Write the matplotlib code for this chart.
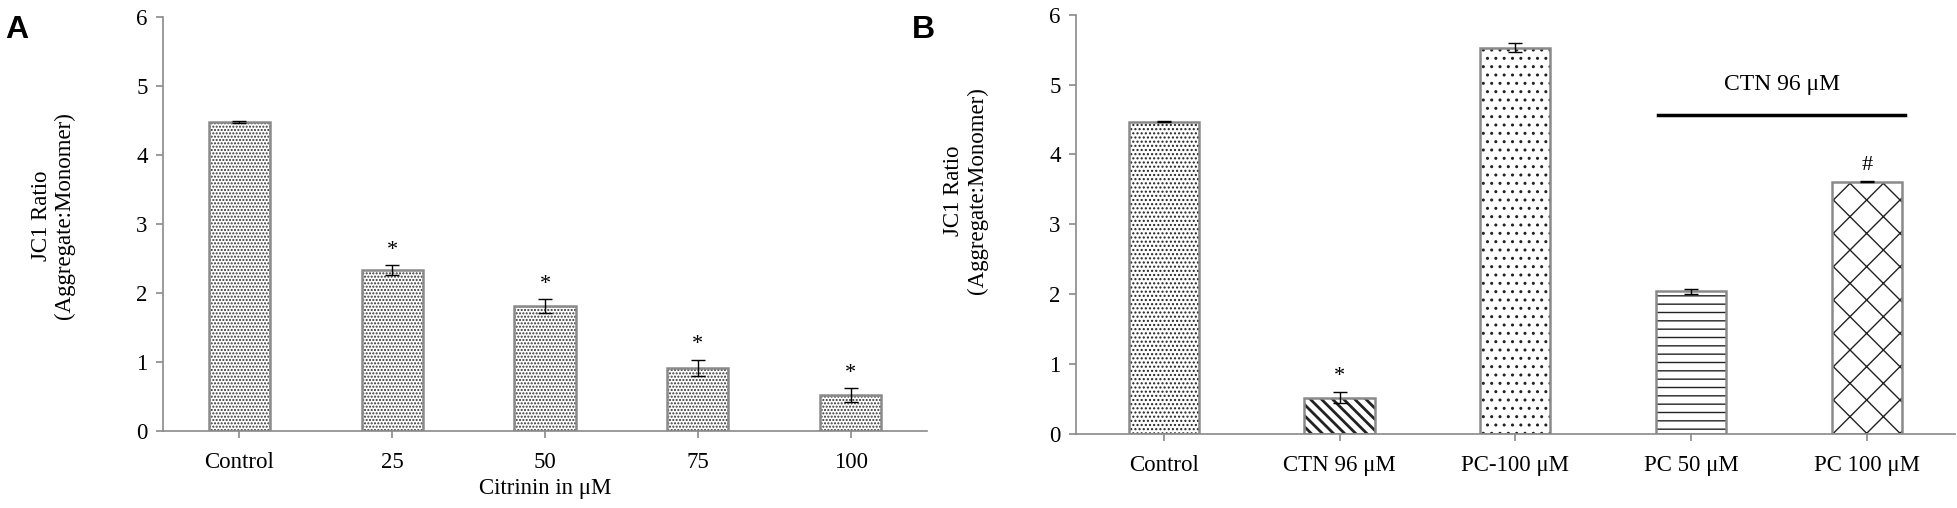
import numpy as np
import matplotlib
matplotlib.use('Agg')
import matplotlib.pyplot as plt

plt.rcParams['font.family'] = ['Liberation Serif', 'DejaVu Serif']
plt.rcParams['font.size'] = 16.5

# panel A data
dose_labels = ['Control', '25', '50', '75', '100']
dose_vals = [4.48, 2.33, 1.81, 0.91, 0.52]
dose_err = [0.01, 0.07, 0.10, 0.12, 0.10]
dose_marks = ['', '*', '*', '*', '*']

# panel B data
treat_labels = ['Control', 'CTN 96 \u03bcM', 'PC-100 \u03bcM', 'PC 50 \u03bcM', 'PC 100 \u03bcM']
treat_vals = [4.47, 0.52, 5.53, 2.04, 3.61]
treat_err = [0.01, 0.08, 0.06, 0.04, 0.01]
treat_marks = ['', '*', '', '', '#']
treat_hatch = ['....', '\\\\\\', '..', '--', 'x']

bracket_from = 2.81
bracket_to = 4.22
bracket_y = 4.56
bracket_text = 'CTN 96 \u03bcM'

edge_grey = '#8a8a8a'

fig = plt.figure(figsize=(19.57, 5.08), dpi=100)
axA = fig.add_axes([0.0833, 0.1516, 0.3904, 0.815])
axB = fig.add_axes([0.5498, 0.1457, 0.449, 0.8254])


def style_axis(ax, labels):
    x = np.arange(len(labels))
    ax.set_xlim(-0.5, len(labels) - 0.5)
    ax.set_ylim(0, 6)
    ax.set_yticks(range(7))
    ax.set_xticks(x)
    ax.set_xticklabels(labels)
    for s in ['top', 'right']:
        ax.spines[s].set_visible(False)
    for s in ['left', 'bottom']:
        ax.spines[s].set_color(edge_grey)
        ax.spines[s].set_linewidth(1.2)
    ax.tick_params(axis='both', colors=edge_grey, labelcolor='black', length=5, width=1.2)
    ax.tick_params(axis='x', pad=10)
    ax.tick_params(axis='y', pad=6)
    return x


def draw_bars(ax, x, vals, errs, hatches, hatch_col):
    for xi, v, h in zip(x, vals, hatches):
        b = ax.bar(xi, v, width=0.4, color='white', edgecolor=hatch_col, hatch=h, linewidth=0)
        for p in b:
            if hasattr(p, 'set_hatch_linewidth'):
                p.set_hatch_linewidth(2.0 if h.startswith('\\') else 1.0)
    ax.bar(x, vals, width=0.4, fill=False, edgecolor=edge_grey, linewidth=1.8)
    ax.errorbar(x, vals, yerr=errs, fmt='none', ecolor='black', elinewidth=1, capsize=5, capthick=1)


# panel A
xA = style_axis(axA, dose_labels)
draw_bars(axA, xA, dose_vals, dose_err, ['.....'] * 5, '#333333')
for xi, v, e, m in zip(xA, dose_vals, dose_err, dose_marks):
    if m:
        axA.annotate(m, (xi, v + e), xytext=(0, 4), textcoords='offset points',
                     ha='center', va='bottom', fontsize=16)
axA.set_ylabel('JC1 Ratio\n(Aggregate:Monomer)', linespacing=1.15)
axA.yaxis.set_label_coords(-0.115, 0.52)
axA.set_xlabel('Citrinin in \u03bcM', labelpad=4)

# panel B
xB = style_axis(axB, treat_labels)
draw_bars(axB, xB, treat_vals, treat_err, treat_hatch, '#222222')
for xi, v, e, m in zip(xB, treat_vals, treat_err, treat_marks):
    if m:
        axB.annotate(m, (xi, v + e), xytext=(0, 4), textcoords='offset points',
                     ha='center', va='bottom', fontsize=16)
axB.plot([bracket_from, bracket_to], [bracket_y, bracket_y], color='black', lw=2.5)
axB.text((bracket_from + bracket_to) / 2, 5.0, bracket_text, ha='center', va='center', fontsize=17)
axB.set_ylabel('JC1 Ratio\n(Aggregate:Monomer)', linespacing=1.15)
axB.yaxis.set_label_coords(-0.1, 0.58)

fig.text(0.0025, 0.97, 'A', fontsize=23, fontweight='bold', family='Liberation Sans', va='top')
fig.text(0.466, 0.97, 'B', fontsize=23, fontweight='bold', family='Liberation Sans', va='top')

plt.savefig('out.png', dpi=100)
